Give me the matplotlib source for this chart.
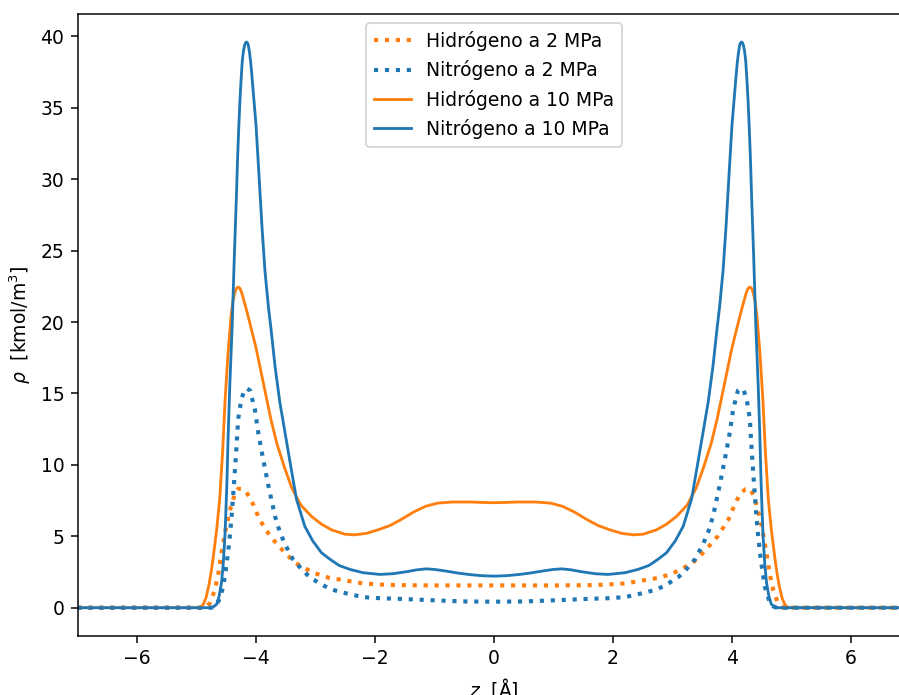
import numpy as np
import matplotlib
matplotlib.use("Agg")
import matplotlib.pyplot as plt

# Perfiles de densidad (z en Angstrom, rho en kmol/m3)

# Hidrogeno a 2 MPa
z_h2_2 = [-7.0, -4.85, -4.77, -4.69, -4.63, -4.58, -4.50, -4.42, -4.36, -4.30,
          -4.23, -4.16, -4.07, -3.94, -3.76, -3.54, -3.34, -3.15, -3.0, -2.78,
          -2.56, -2.2, -1.9, -1.64, -1.08, 0.0,
          1.08, 1.64, 1.9, 2.2, 2.56, 2.78, 3.0, 3.15, 3.34, 3.54,
          3.76, 3.94, 4.07, 4.16, 4.23, 4.30, 4.36, 4.42, 4.50, 4.58,
          4.63, 4.69, 4.77, 4.85, 7.0]
rho_h2_2 = [0.0, 0.0, 0.35, 1.28, 2.45, 3.84, 5.7, 7.1, 7.9, 8.33,
            8.3, 8.08, 7.45, 6.17, 5.0, 3.96, 3.14, 2.7, 2.4, 2.1,
            1.95, 1.70, 1.62, 1.58, 1.56, 1.56,
            1.56, 1.58, 1.62, 1.70, 1.95, 2.1, 2.4, 2.7, 3.14, 3.96,
            5.0, 6.17, 7.45, 8.08, 8.3, 8.33, 7.9, 7.1, 5.7, 3.84,
            2.45, 1.28, 0.35, 0.0, 0.0]

# Nitrogeno a 2 MPa
z_n2_2 = [-7.0, -4.75, -4.69, -4.63, -4.59, -4.55, -4.51, -4.47, -4.44, -4.41,
          -4.365, -4.33, -4.30, -4.25, -4.20, -4.15, -4.10, -4.02, -3.96, -3.88,
          -3.79, -3.68, -3.6, -3.51, -3.38, -3.23, -3.1, -2.95, -2.75, -2.53,
          -2.2, -1.9, -1.64, -1.08, -0.52, 0.0,
          0.52, 1.08, 1.64, 1.9, 2.2, 2.53, 2.75, 2.95, 3.1, 3.23,
          3.38, 3.51, 3.6, 3.68, 3.79, 3.88, 3.96, 4.02, 4.10, 4.15,
          4.20, 4.25, 4.30, 4.33, 4.365, 4.41, 4.44, 4.47, 4.51, 4.55,
          4.59, 4.63, 4.69, 4.75, 7.0]
rho_n2_2 = [0.0, 0.0, 0.1, 0.46, 0.9, 1.5, 2.6, 3.84, 5.0, 6.4,
            8.97, 11.1, 13.2, 14.5, 15.2, 15.35, 15.2, 13.9, 12.2, 10.4,
            8.5, 6.4, 5.3, 4.42, 3.4, 2.68, 2.15, 1.75, 1.3, 1.05,
            0.74, 0.66, 0.63, 0.53, 0.44, 0.42,
            0.44, 0.53, 0.63, 0.66, 0.74, 1.05, 1.3, 1.75, 2.15, 2.68,
            3.4, 4.42, 5.3, 6.4, 8.5, 10.4, 12.2, 13.9, 15.2, 15.35,
            15.2, 14.5, 13.2, 11.1, 8.97, 6.4, 5.0, 3.84, 2.6, 1.5,
            0.9, 0.46, 0.1, 0.0, 0.0]

# Hidrogeno a 10 MPa
z_h2_10 = [-7.0, -4.95, -4.89, -4.84, -4.79, -4.75, -4.72, -4.66, -4.61, -4.56,
           -4.52, -4.47, -4.42, -4.39, -4.36, -4.33, -4.30, -4.27, -4.24, -4.21,
           -4.17, -4.12, -4.06, -4.0, -3.94, -3.85, -3.75, -3.65, -3.52, -3.40,
           -3.25, -3.07, -2.90, -2.73, -2.51, -2.35, -2.15, -1.95, -1.75, -1.55,
           -1.35, -1.15, -0.95, -0.7, -0.4, -0.2, 0.0,
           0.2, 0.4, 0.7, 0.95, 1.15, 1.35, 1.55, 1.75, 1.95, 2.15,
           2.35, 2.51, 2.73, 2.90, 3.07, 3.25, 3.40, 3.52, 3.65, 3.75,
           3.85, 3.94, 4.0, 4.06, 4.12, 4.17, 4.21, 4.24, 4.27, 4.30,
           4.33, 4.36, 4.39, 4.42, 4.47, 4.52, 4.56, 4.61, 4.66, 4.72,
           4.75, 4.79, 4.84, 4.89, 4.95, 7.0]
rho_h2_10 = [0.0, 0.0, 0.2, 0.7, 1.6, 2.6, 3.5, 5.5, 7.6, 11.0,
             14.5, 17.8, 20.4, 21.4, 22.0, 22.35, 22.45, 22.35, 22.05, 21.6,
             21.0, 20.2, 19.2, 18.2, 17.0, 15.2, 13.2, 11.5, 9.8, 8.4,
             7.2, 6.4, 5.85, 5.45, 5.15, 5.1, 5.2, 5.45, 5.75, 6.2,
             6.7, 7.1, 7.32, 7.4, 7.4, 7.37, 7.35,
             7.37, 7.4, 7.4, 7.32, 7.1, 6.7, 6.2, 5.75, 5.45, 5.2,
             5.1, 5.15, 5.45, 5.85, 6.4, 7.2, 8.4, 9.8, 11.5, 13.2,
             15.2, 17.0, 18.2, 19.2, 20.2, 21.0, 21.6, 22.05, 22.35, 22.45,
             22.35, 22.0, 21.4, 20.4, 17.8, 14.5, 11.0, 7.6, 5.5, 3.5,
             2.6, 1.6, 0.7, 0.2, 0.0, 0.0]

# Nitrogeno a 10 MPa
z_n2_10 = [-7.0, -4.78, -4.72, -4.66, -4.62, -4.58, -4.55, -4.52, -4.49, -4.467,
           -4.44, -4.40, -4.365, -4.33, -4.31, -4.29, -4.27, -4.25, -4.23, -4.21,
           -4.19, -4.175, -4.16, -4.145, -4.13, -4.11, -4.09, -4.07, -4.04, -4.0,
           -3.95, -3.90, -3.85, -3.79, -3.75, -3.68, -3.60, -3.51, -3.42, -3.32,
           -3.18, -3.05, -2.90, -2.76, -2.60, -2.42, -2.2, -1.92, -1.7, -1.47,
           -1.3, -1.14, -1.0, -0.80, -0.6, -0.41, -0.2, 0.0,
           0.2, 0.41, 0.6, 0.80, 1.0, 1.14, 1.3, 1.47, 1.7, 1.92,
           2.2, 2.42, 2.60, 2.76, 2.90, 3.05, 3.18, 3.32, 3.42, 3.51,
           3.60, 3.68, 3.75, 3.79, 3.85, 3.90, 3.95, 4.0, 4.04, 4.07,
           4.09, 4.11, 4.13, 4.145, 4.16, 4.175, 4.19, 4.21, 4.23, 4.25,
           4.27, 4.29, 4.31, 4.33, 4.365, 4.40, 4.44, 4.467, 4.49, 4.52,
           4.55, 4.58, 4.62, 4.66, 4.72, 4.78, 7.0]
rho_n2_10 = [0.0, 0.0, 0.05, 0.25, 0.8, 1.75, 3.1, 5.2, 8.6, 12.2,
             15.6, 19.8, 24.5, 28.7, 31.4, 33.6, 35.5, 37.0, 38.3, 39.0,
             39.4, 39.55, 39.6, 39.55, 39.4, 38.9, 38.2, 37.3, 35.8, 33.8,
             30.3, 26.7, 23.6, 21.0, 19.6, 16.9, 14.4, 12.2, 10.0, 7.6,
             5.7, 4.7, 3.85, 3.4, 2.95, 2.68, 2.45, 2.33, 2.38, 2.52,
             2.65, 2.72, 2.68, 2.56, 2.42, 2.32, 2.24, 2.21,
             2.24, 2.32, 2.42, 2.56, 2.68, 2.72, 2.65, 2.52, 2.38, 2.33,
             2.45, 2.68, 2.95, 3.4, 3.85, 4.7, 5.7, 7.6, 10.0, 12.2,
             14.4, 16.9, 19.6, 21.0, 23.6, 26.7, 30.3, 33.8, 35.8, 37.3,
             38.2, 38.9, 39.4, 39.55, 39.6, 39.55, 39.4, 39.0, 38.3, 37.0,
             35.5, 33.6, 31.4, 28.7, 24.5, 19.8, 15.6, 12.2, 8.6, 5.2,
             3.1, 1.75, 0.8, 0.25, 0.05, 0.0, 0.0]

DPI = 135
fig = plt.figure(figsize=(899 / DPI, 695 / DPI), dpi=DPI)
ax = fig.add_axes([77.5 / 899, 59 / 695, 833 / 899, 622 / 695])

ax.plot(z_h2_2, rho_h2_2, ':', color='tab:orange', lw=2.2, label='Hidrógeno a 2 MPa')
ax.plot(z_n2_2, rho_n2_2, ':', color='tab:blue', lw=2.2, label='Nitrógeno a 2 MPa')
ax.plot(z_h2_10, rho_h2_10, '-', color='tab:orange', lw=1.5, label='Hidrógeno a 10 MPa')
ax.plot(z_n2_10, rho_n2_10, '-', color='tab:blue', lw=1.5, label='Nitrógeno a 10 MPa')

ax.set_xlim(-7, 7)
ax.set_ylim(-1.98, 41.56)
ax.set_xlabel(r'$z$  [Å]')
ax.set_ylabel(r'$\rho$  [kmol/m$^3$]')
ax.legend(loc='upper center')

fig.savefig('out.png', dpi=DPI)
